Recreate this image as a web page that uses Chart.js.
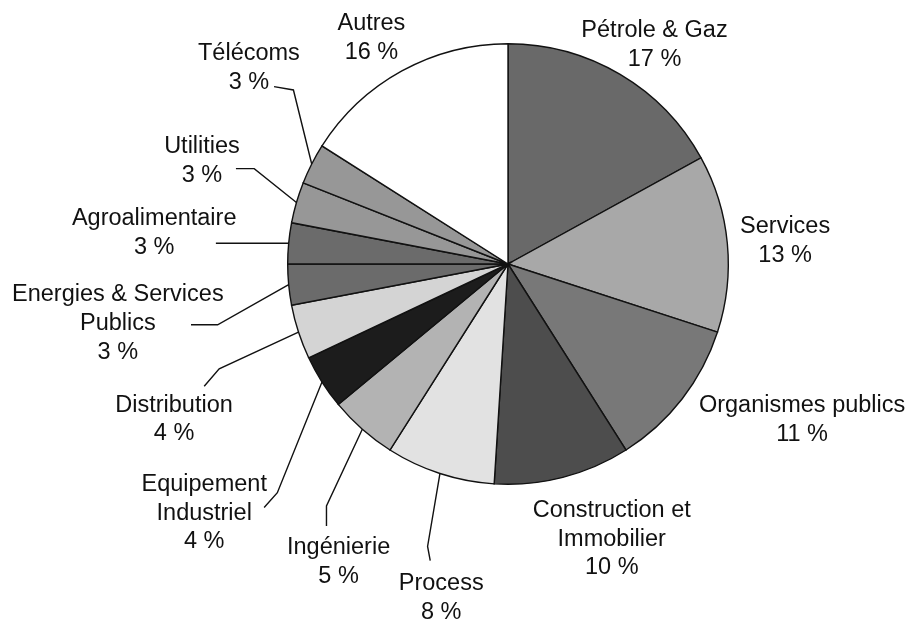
<!DOCTYPE html>
<html>
<head>
<meta charset="utf-8">
<script src="https://cdn.jsdelivr.net/npm/chart.js@4"></script>
<style>
  html, body { margin: 0; padding: 0; background: #fff; }
  #wrap { width: 912px; height: 620px; }
</style>
</head>
<body>
<div id="wrap"><canvas id="sectorsChart" width="912" height="620"></canvas></div>
<script>
const sectors = [
  'Pétrole & Gaz',
  'Services',
  'Organismes publics',
  ['Construction et', 'Immobilier'],
  'Process',
  'Ingénierie',
  ['Equipement', 'Industriel'],
  'Distribution',
  ['Energies & Services', 'Publics'],
  'Agroalimentaire',
  'Utilities',
  'Télécoms',
  'Autres'
];
const shares = [17, 13, 11, 10, 8, 5, 4, 4, 3, 3, 3, 3, 16];

const sliceColors = ['#696969', '#a8a8a8', '#787878', '#4d4d4d', '#e2e2e2', '#b3b3b3',
  '#1c1c1c', '#d4d4d4', '#6b6b6b', '#6b6b6b', '#979797', '#979797', '#ffffff'];

// label block centre and leader line points, in radius units from the pie centre
const labelSpots = [
  { at: [0.665, -0.993] },
  { at: [1.258, -0.106] },
  { at: [1.335, 0.710] },
  { at: [0.471, 1.249] },
  { at: [-0.303, 1.516], leader: [[-0.365, 1.282], [-0.353, 1.347]] },
  { at: [-0.769, 1.351], leader: [[-0.824, 1.098], [-0.824, 1.189]] },
  { at: [-1.379, 1.131], leader: [[-1.047, 1.038], [-1.107, 1.105]] },
  { at: [-1.516, 0.706], leader: [[-1.311, 0.476], [-1.379, 0.555]] },
  { at: [-1.771, 0.271], leader: [[-1.318, 0.276], [-1.439, 0.276]] },
  { at: [-1.606, -0.140], leader: [[-1.326, -0.094]] },
  { at: [-1.389, -0.469], leader: [[-1.152, -0.433], [-1.235, -0.433]] },
  { at: [-1.176, -0.889], leader: [[-0.974, -0.790], [-1.062, -0.805]] },
  { at: [-0.620, -1.025] }
];

const FONT = '23.5px "Liberation Sans", Arial, Helvetica, sans-serif';
const LINE_H = 28.8;

const outsideLabels = {
  id: 'outsideLabels',
  afterDatasetsDraw(chart) {
    const ctx = chart.ctx;
    const arcs = chart.getDatasetMeta(0).data;
    ctx.save();
    arcs.forEach((arc, i) => {
      const { x, y, startAngle, endAngle, outerRadius } = arc.getProps(['x', 'y', 'startAngle', 'endAngle', 'outerRadius'], true);
      const r = outerRadius;
      const spot = labelSpots[i];
      if (spot.leader) {
        const mid = (startAngle + endAngle) / 2;
        ctx.beginPath();
        ctx.moveTo(x + r * Math.cos(mid), y + r * Math.sin(mid));
        spot.leader.forEach(p => ctx.lineTo(x + r * p[0], y + r * p[1]));
        ctx.strokeStyle = '#111';
        ctx.lineWidth = 1.4;
        ctx.stroke();
      }
      const name = Array.isArray(sectors[i]) ? sectors[i] : [sectors[i]];
      const lines = [...name, shares[i] + ' %'];
      const cx = x + r * spot.at[0];
      const cy = y + r * spot.at[1];
      ctx.font = FONT;
      ctx.fillStyle = '#111';
      ctx.textAlign = 'center';
      ctx.textBaseline = 'middle';
      lines.forEach((t, k) => {
        ctx.fillText(t, cx, cy + (k - (lines.length - 1) / 2) * LINE_H);
      });
    });
    ctx.restore();
  }
};

new Chart(document.getElementById('sectorsChart'), {
  type: 'pie',
  data: {
    labels: sectors,
    datasets: [{
      data: shares,
      backgroundColor: sliceColors,
      borderColor: '#111',
      borderWidth: 1.4,
      borderJoinStyle: 'miter'
    }]
  },
  options: {
    responsive: false,
    animation: false,
    layout: {
      padding: { top: 43, bottom: 135, left: 287, right: 183 }
    },
    plugins: {
      legend: { display: false },
      tooltip: { enabled: false }
    }
  },
  plugins: [outsideLabels]
});
</script>
</body>
</html>
